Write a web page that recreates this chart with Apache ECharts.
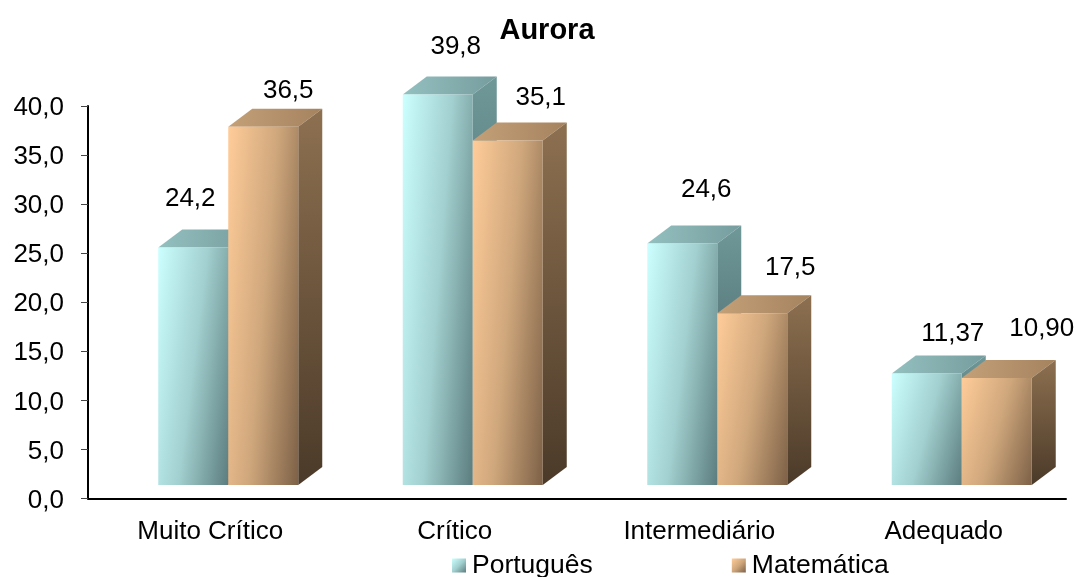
<!DOCTYPE html>
<html><head><meta charset="utf-8">
<style>html,body{margin:0;padding:0;background:#fff;overflow:hidden}#c{width:1077px;height:577px}</style>
<script src="https://cdn.jsdelivr.net/npm/echarts@6/dist/echarts.min.js"></script>
</head><body><div id="c"></div>
<script>
const categories = ['Muito Crítico', 'Crítico', 'Intermediário', 'Adequado'];
const portugues = [24.2, 39.8, 24.6, 11.37];
const matematica = [36.5, 35.1, 17.5, 10.90];
const portuguesLabels = ['24,2', '39,8', '24,6', '11,37'];
const matematicaLabels = ['36,5', '35,1', '17,5', '10,90'];
const portuguesNudge = [[-3, -49], [18, -48], [24, -54], [26, -40]];
const matematicaNudge = [[25, -36], [33, -43], [38, -45], [45, -49]];
const yTicks = { min: 0, max: 40, interval: 5 };

const FONT = '"Liberation Sans", Arial, sans-serif';
const G = echarts.graphic.LinearGradient;
const stops = (a, m, b) => [{offset:0,color:a},{offset:.5,color:m},{offset:1,color:b}];
const TEAL = {
  front: ['#ccffff', '#a2cfcf', '#5c7d7f'],
  top: () => new G(0, 0, 1, 0, [{offset:0,color:'#94c0c0'},{offset:1,color:'#769c9e'}]),
  side: () => new G(0, 0, 0, 1, [{offset:0,color:'#6f9899'},{offset:1,color:'#3d5557'}])
};
const ORANGE = {
  front: ['#ffcc99', '#cfa77c', '#7d6147'],
  top: () => new G(0, 0, 1, 0, [{offset:0,color:'#c4a078'},{offset:1,color:'#a5835f'}]),
  side: () => new G(0, 0, 0, 1, [{offset:0,color:'#8d7050'},{offset:1,color:'#4b3a29'}])
};
function frontFill(pal, w, h) {
  const gx = 0.7 / w, gy = 0.3 / h, n = gx * gx + gy * gy;
  return new G(0, 0, (gx / n) / w, (gy / n) / h, stops(pal.front[0], pal.front[1], pal.front[2]));
}
const W = 70, DX = 24, DY = 18, BASE = 13.5, CX = 18;
function bar(slot, pal, labels, nudge) {
  return function (params, api) {
    const i = api.value(0), v = api.value(1);
    const zero = api.coord([i, 0]), top = api.coord([i, v]);
    const x0 = zero[0] + CX + slot * W, x1 = x0 + W;
    const yb = zero[1] - BASE, yt = top[1] - BASE;
    const poly = (pts, fill) => ({ type: 'polygon', shape: { points: pts }, style: { fill: fill } });
    return { type: 'group', children: [
      poly([[x0,yt],[x0+DX,yt-DY],[x1+DX,yt-DY],[x1,yt]], pal.top()),
      poly([[x1,yt],[x1+DX,yt-DY],[x1+DX,yb-DY],[x1,yb]], pal.side()),
      poly([[x0,yt],[x1,yt],[x1,yb],[x0,yb]], frontFill(pal, W, yb - yt)),
      { type: 'text', z2: 50, style: {
        text: labels[params.dataIndex],
        x: (x0 + x1) / 2 + nudge[params.dataIndex][0],
        y: yt + nudge[params.dataIndex][1],
        align: 'center', verticalAlign: 'middle',
        font: '26px ' + FONT, fill: '#000' } }
    ]};
  };
}
const legendFill = pal => new G(0, 0, 1, 1, stops(pal.front[0], pal.front[1], pal.front[2]));
const chart = echarts.init(document.getElementById('c'), null, { renderer: 'canvas' });
chart.setOption({
  animation: false,
  backgroundColor: '#fff',
  title: { text: 'Aurora', left: 542, top: 11, textAlign: 'center',
    textStyle: { fontFamily: FONT, fontSize: 29, fontWeight: 'bold', color: '#000' } },
  legend: { left: 447, top: 547, itemWidth: 14, itemHeight: 14, itemGap: 139,
    icon: 'rect', textStyle: { fontFamily: FONT, fontSize: 26.5, color: '#000', padding: [6,0,0,1] },
    data: ['Português', 'Matemática'] },
  grid: { left: 88, right: 11, top: 106, bottom: 78.5 },
  xAxis: { type: 'category', data: categories,
    axisLine: { lineStyle: { color: '#000', width: 2 } },
    axisTick: { length: 7, lineStyle: { color: '#444', width: 1 } },
    axisLabel: { fontFamily: FONT, fontSize: 26, color: '#000', margin: 20 } },
  yAxis: { type: 'value', min: yTicks.min, max: yTicks.max, interval: yTicks.interval,
    splitLine: { show: false },
    axisLine: { show: true, lineStyle: { color: '#000', width: 2 } },
    axisTick: { show: true, length: 7, lineStyle: { color: '#444', width: 1 } },
    axisLabel: { fontFamily: FONT, fontSize: 26, color: '#000', margin: 24,
      verticalAlign: 'top', padding: [-11,0,0,0],
      formatter: v => v.toFixed(1).replace('.', ',') } },
  series: [
    { name: 'Português', type: 'custom', coordinateSystem: 'cartesian2d', clip: false,
      itemStyle: { color: legendFill(TEAL) }, encode: { x: 0, y: 1 },
      renderItem: bar(-1, TEAL, portuguesLabels, portuguesNudge),
      data: categories.map((c, i) => [i, portugues[i]]) },
    { name: 'Matemática', type: 'custom', coordinateSystem: 'cartesian2d', clip: false,
      itemStyle: { color: legendFill(ORANGE) }, encode: { x: 0, y: 1 },
      renderItem: bar(0, ORANGE, matematicaLabels, matematicaNudge),
      data: categories.map((c, i) => [i, matematica[i]]) }
  ]
});
</script></body></html>
